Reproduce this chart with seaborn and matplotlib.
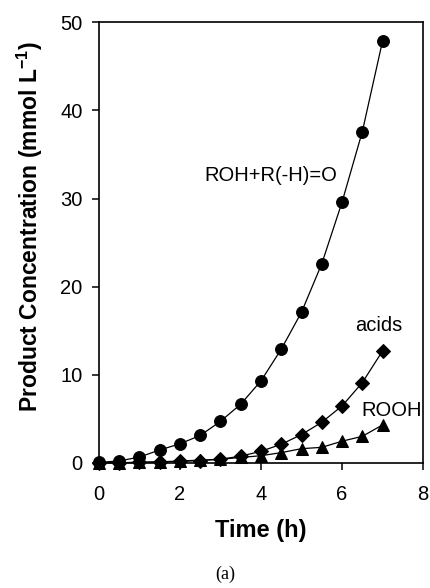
import numpy as np
import pandas as pd
import matplotlib
matplotlib.use("Agg")
import matplotlib.pyplot as plt
import seaborn as sns

# Sampling times (h)
time_h = [0, 0.5, 1, 1.5, 2, 2.5, 3, 3.5, 4, 4.5, 5, 5.5, 6, 6.5, 7]

# Product concentrations (mmol L-1)
roh_ketone = [0.05, 0.2, 0.65, 1.45, 2.15, 3.1, 4.7, 6.65, 9.3, 12.9, 17.1, 22.6, 29.6, 37.6, 47.9]
acids = [0, 0, 0.05, 0.1, 0.15, 0.25, 0.4, 0.75, 1.3, 2.1, 3.2, 4.6, 6.45, 9.1, 12.7]
rooh = [0, 0, 0.05, 0.1, 0.2, 0.3, 0.4, 0.6, 0.8, 1.15, 1.6, 1.75, 2.45, 3.0, 4.3]

series_names = ["ROH+R(-H)=O", "acids", "ROOH"]
x_ticks = [0, 2, 4, 6, 8]
y_ticks = [0, 10, 20, 30, 40, 50]

df = pd.concat([
    pd.DataFrame({"Time": time_h, "Conc": roh_ketone, "Product": series_names[0]}),
    pd.DataFrame({"Time": time_h, "Conc": acids, "Product": series_names[1]}),
    pd.DataFrame({"Time": time_h, "Conc": rooh, "Product": series_names[2]}),
], ignore_index=True)

sns.set_theme(style="ticks")
plt.rcParams["font.family"] = ["Liberation Sans", "DejaVu Sans"]
plt.rcParams["mathtext.fontset"] = "custom"
plt.rcParams["mathtext.rm"] = "Liberation Sans"
plt.rcParams["mathtext.bf"] = "Liberation Sans:bold"
for key in ["text.color", "axes.labelcolor", "xtick.color", "ytick.color",
            "axes.edgecolor"]:
    plt.rcParams[key] = "black"

fig = plt.figure(figsize=(4.3, 5.88), dpi=100)
ax = fig.add_axes([0.230, 0.213, 0.754, 0.749])

markers = {series_names[0]: "o", series_names[1]: "D", series_names[2]: "^"}
sizes = {series_names[0]: 8.5, series_names[1]: 7.5, series_names[2]: 8.5}
for name in series_names:
    sub = df[df["Product"] == name]
    sns.lineplot(data=sub, x="Time", y="Conc", ax=ax, color="black",
                 linewidth=0.9, marker=markers[name], markersize=sizes[name],
                 markeredgecolor="black", markerfacecolor="black",
                 clip_on=False, zorder=3)

ax.set_xlim(0, 8)
ax.set_ylim(0, 50)
ax.set_xticks(x_ticks)
ax.set_yticks(y_ticks)
ax.tick_params(axis="both", direction="out", length=4.8, width=1.1,
               labelsize=14.5, colors="black")
ax.tick_params(axis="x", pad=11)
ax.tick_params(axis="y", pad=7)
for sp in ax.spines.values():
    sp.set_visible(True)
    sp.set_linewidth(1.2)
    sp.set_color("black")

ax.set_xlabel("Time (h)", fontsize=17, fontweight="bold")
ax.xaxis.set_label_coords(0.498, -0.154)
ax.xaxis.label.set_verticalalignment("center")

ax.set_ylabel(r"Product Concentration (mmol L$^{\mathbf{-1}}$)", fontsize=16.5,
              fontweight="bold")
ax.yaxis.set_label_coords(-0.213, 0.537)
ax.yaxis.label.set_verticalalignment("center")

ax.text(5.88, 32.6, "ROH+R(-H)=O", fontsize=14.5, ha="right", va="center")
ax.text(7.48, 15.6, "acids", fontsize=14.5, ha="right", va="center")
ax.text(7.98, 5.97, "ROOH", fontsize=14.5, ha="right", va="center")

fig.text(0.523, 0.024, "(a)", fontsize=13, ha="center", va="center",
         family=["Liberation Serif", "DejaVu Serif"])

fig.savefig("out.png", dpi=100, facecolor="white")
